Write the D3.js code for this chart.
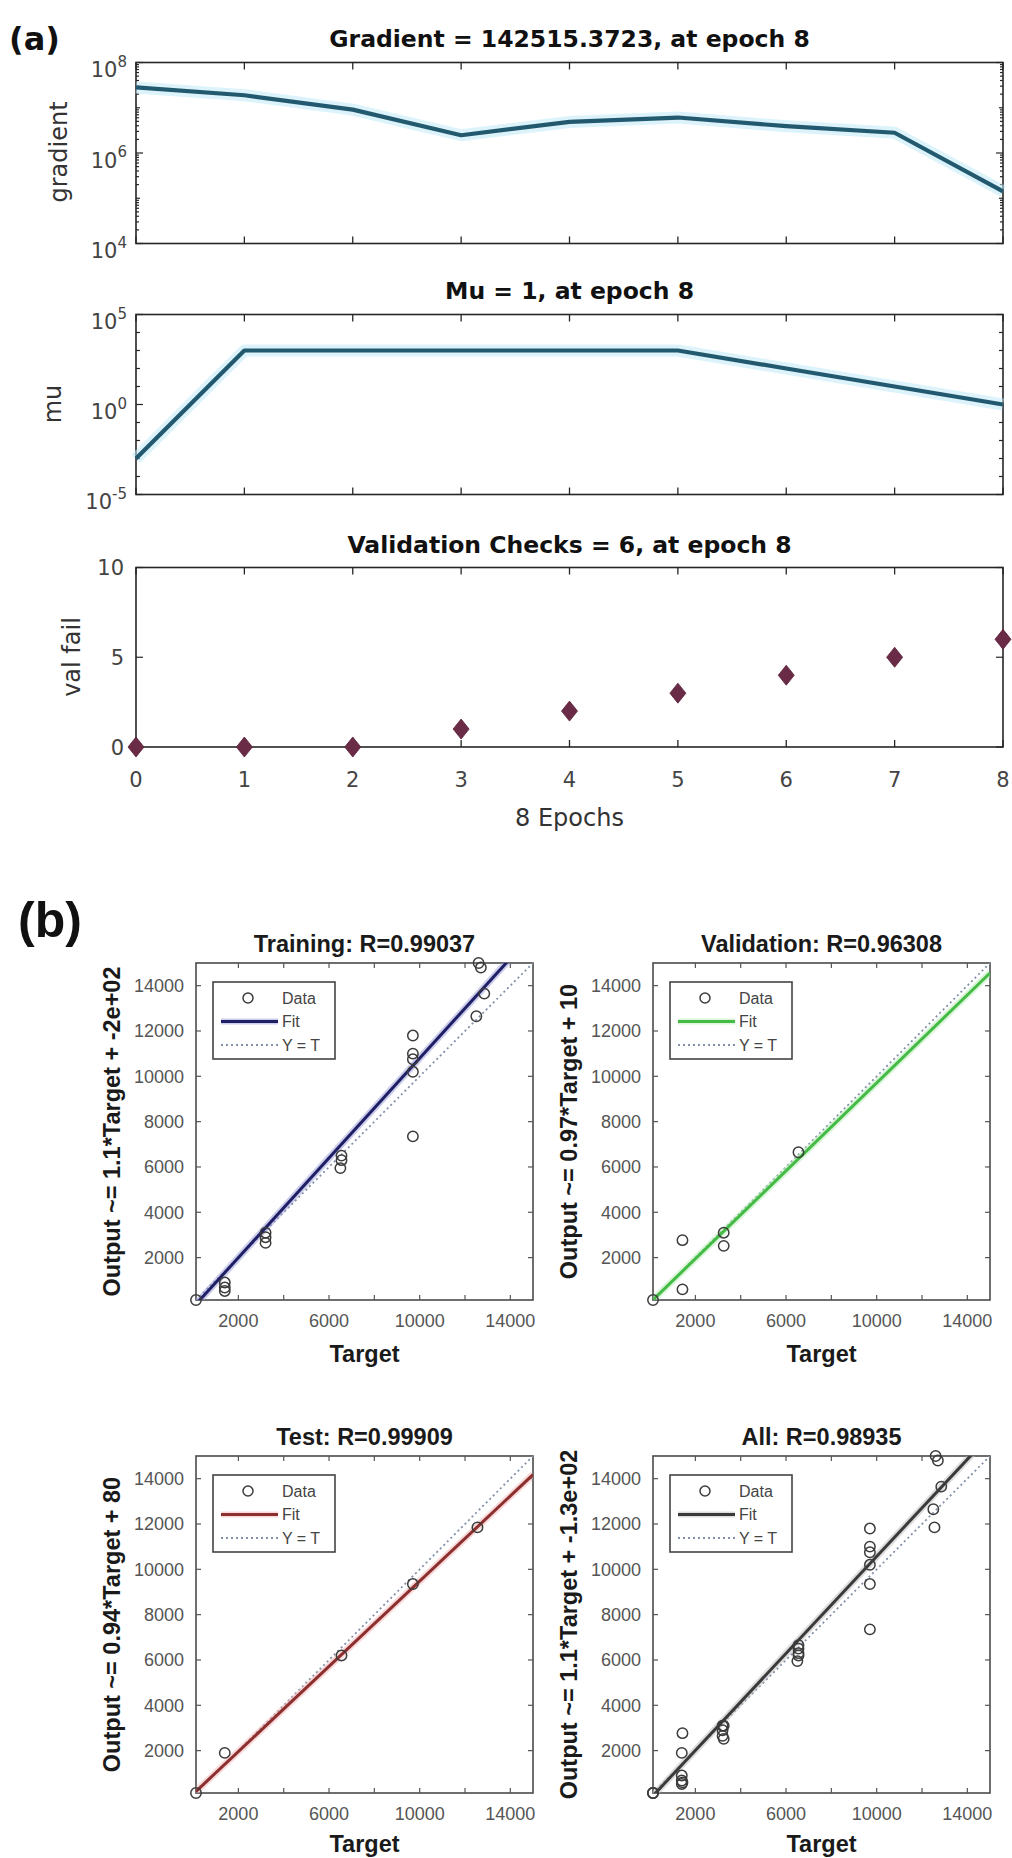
<!DOCTYPE html>
<html><head><meta charset="utf-8">
<script src="https://cdn.jsdelivr.net/npm/d3@7"></script>
<style>body{margin:0;background:#fff;} svg{display:block;}</style>
</head><body>
<svg id="chart" width="1012" height="1858"></svg>
<script>
// ===== DATA =====
const epochs = [0, 1, 2, 3, 4, 5, 6, 7, 8];
const gradientValues = [2.81e7, 1.89e7, 9.1e6, 2.47e6, 4.86e6, 6.08e6, 3.91e6, 2.8e6, 142515.3723];
const muValues = [1e-3, 1e3, 1e3, 1e3, 1e3, 1e3, 1e2, 1e1, 1];
const valFailValues = [0, 0, 0, 1, 2, 3, 4, 5, 6];
const panelATitles = ["Gradient = 142515.3723, at epoch 8", "Mu = 1, at epoch 8", "Validation Checks = 6, at epoch 8"];
const panelAYLabels = ["gradient", "mu", "val fail"];
const gradientTickExps = [4, 6, 8];
const muTickExps = [-5, 0, 5];
const valFailTicks = [0, 5, 10];
const epochAxisLabel = "8 Epochs";

const trainingTarget = [130, 1400, 1400, 1400, 3200, 3200, 3200, 6550, 6550, 6500, 9700, 9700, 9700, 9700, 9700, 12600, 12700, 12850, 12500];
const trainingOutput = [130, 900, 680, 530, 3100, 2900, 2650, 6500, 6300, 5950, 11800, 11000, 10750, 10200, 7350, 15000, 14800, 13650, 12650];
const validationTarget = [130, 1430, 1430, 3250, 3250, 6550];
const validationOutput = [130, 2770, 600, 3100, 2520, 6650];
const testTarget = [130, 1400, 6550, 9700, 12550];
const testOutput = [130, 1900, 6200, 9350, 11850];
const allTarget = trainingTarget.concat(validationTarget, testTarget);
const allOutput = trainingOutput.concat(validationOutput, testOutput);

const regressionTitles = ["Training: R=0.99037", "Validation: R=0.96308", "Test: R=0.99909", "All: R=0.98935"];
const regressionYLabels = ["Output ~= 1.1*Target + -2e+02", "Output ~= 0.97*Target + 10", "Output ~= 0.94*Target + 80", "Output ~= 1.1*Target + -1.3e+02"];
const fitSlopes = [1.1, 0.97, 0.94, 1.07];
const fitIntercepts = [-200, 10, 80, -130];
const regressionTicks = [2000, 4000, 6000, 8000, 10000, 12000, 14000];
const regressionXTickLabels = [2000, 6000, 10000, 14000];
const regressionYTickLabels = [2000, 4000, 6000, 8000, 10000, 12000, 14000];
const legendLabels = ["Data", "Fit", "Y = T"];
const regressionXLabel = "Target";
const panelLabels = ["(a)", "(b)"];

// ===== STYLE / LAYOUT =====
const W = 1012, H = 1858;
const svg = d3.select("#chart");
const FA = "'DejaVu Sans', sans-serif";
const FB = "'Liberation Sans', Arial, sans-serif";

svg.append("text").attr("x", 9).attr("y", 50).attr("font-family", FA).attr("font-weight", "bold")
  .attr("font-size", 32).attr("fill", "#111").text(panelLabels[0]);
svg.append("text").attr("x", 18).attr("y", 937).attr("font-family", FB).attr("font-weight", "bold")
  .attr("font-size", 50).attr("fill", "#111").text(panelLabels[1]);

const AL = 136, AR = 1003;
const xE = d3.scaleLinear().domain([0, 8]).range([AL, AR]);

function boxAndXTicks(g, top, bottom) {
  g.append("rect").attr("x", AL).attr("y", top).attr("width", AR - AL).attr("height", bottom - top)
    .attr("fill", "none").attr("stroke", "#262626").attr("stroke-width", 1.6);
  epochs.forEach(e => {
    g.append("line").attr("x1", xE(e)).attr("x2", xE(e)).attr("y1", bottom).attr("y2", bottom - 7)
      .attr("stroke", "#262626").attr("stroke-width", 1.3);
    g.append("line").attr("x1", xE(e)).attr("x2", xE(e)).attr("y1", top).attr("y2", top + 7)
      .attr("stroke", "#262626").attr("stroke-width", 1.3);
  });
}
function yTick(g, y, len) {
  g.append("line").attr("x1", AL).attr("x2", AL + len).attr("y1", y).attr("y2", y).attr("stroke", "#262626").attr("stroke-width", 1.2);
  g.append("line").attr("x1", AR).attr("x2", AR - len).attr("y1", y).attr("y2", y).attr("stroke", "#262626").attr("stroke-width", 1.2);
}
function titleA(g, txt, y) {
  g.append("text").attr("x", (AL + AR) / 2).attr("y", y).attr("text-anchor", "middle")
    .attr("font-family", FA).attr("font-weight", "bold").attr("font-size", 23.5).attr("fill", "#111").text(txt);
}
function yLabelA(g, txt, x, cy) {
  g.append("text").attr("transform", `translate(${x},${cy}) rotate(-90)`).attr("text-anchor", "middle")
    .attr("font-family", FA).attr("font-size", 24).attr("fill", "#333").text(txt);
}
function logTickLabel(g, y, exp) {
  const t = g.append("text").attr("x", 127).attr("y", y + 14.5).attr("text-anchor", "end")
    .attr("font-family", FA).attr("font-size", 21).attr("fill", "#444");
  t.append("tspan").text("10");
  t.append("tspan").attr("dy", -10.5).attr("font-size", 15).text(String(exp));
}
function logPanel(g, top, bottom, expLo, expHi, tickExps, values) {
  const y = d3.scaleLog().domain([Math.pow(10, expLo), Math.pow(10, expHi)]).range([bottom, top]);
  boxAndXTicks(g, top, bottom);
  for (let k = expLo; k <= expHi; k++) {
    yTick(g, y(Math.pow(10, k)), tickExps.includes(k) ? 7 : 4);
    if (k < expHi && (expHi - expLo) <= 4) {
      for (let m = 2; m <= 9; m++) yTick(g, y(m * Math.pow(10, k)), 3);
    }
  }
  tickExps.forEach(k => logTickLabel(g, y(Math.pow(10, k)), k));
  const line = d3.line().x((d, i) => xE(epochs[i])).y(d => y(d));
  g.append("path").datum(values).attr("d", line).attr("fill", "none")
    .attr("stroke", "#bfeaf7").attr("stroke-width", 12).attr("stroke-opacity", 0.55).attr("stroke-linejoin", "round");
  g.append("path").datum(values).attr("d", line).attr("fill", "none")
    .attr("stroke", "#23596f").attr("stroke-width", 4.2).attr("stroke-linejoin", "round");
}

// Gradient panel
const gA1 = svg.append("g");
titleA(gA1, panelATitles[0], 47);
logPanel(gA1, 62.5, 243.5, 4, 8, gradientTickExps, gradientValues);
yLabelA(gA1, panelAYLabels[0], 67, 152);

// Mu panel
const gA2 = svg.append("g");
titleA(gA2, panelATitles[1], 299);
logPanel(gA2, 314.5, 494.5, -5, 5, muTickExps, muValues);
yLabelA(gA2, panelAYLabels[1], 61, 404);

// Val fail panel
const gA3 = svg.append("g");
titleA(gA3, panelATitles[2], 553);
const VT = 567.5, VB = 747;
const yV = d3.scaleLinear().domain([0, 10]).range([VB, VT]);
boxAndXTicks(gA3, VT, VB);
valFailTicks.forEach(v => {
  yTick(gA3, yV(v), 7);
  gA3.append("text").attr("x", 124).attr("y", yV(v)).attr("dy", "0.36em").attr("text-anchor", "end")
    .attr("font-family", FA).attr("font-size", 21).attr("fill", "#444").text(v);
});
epochs.forEach(e => {
  gA3.append("text").attr("x", xE(e)).attr("y", 787).attr("text-anchor", "middle")
    .attr("font-family", FA).attr("font-size", 21).attr("fill", "#444").text(e);
});
yLabelA(gA3, panelAYLabels[2], 80, 657);
gA3.append("text").attr("x", (AL + AR) / 2).attr("y", 826).attr("text-anchor", "middle")
  .attr("font-family", FA).attr("font-size", 24).attr("fill", "#333").text(epochAxisLabel);
const diamond = (cx, cy) => `M${cx},${cy - 10}L${cx + 8},${cy}L${cx},${cy + 10}L${cx - 8},${cy}Z`;
gA3.selectAll("path.vf").data(valFailValues).enter().append("path").attr("class", "vf")
  .attr("d", (d, i) => diamond(xE(epochs[i]), yV(d))).attr("fill", "#6a2b47").attr("stroke", "#5a2039").attr("stroke-width", 0.8);

// ===== PANEL (b) =====
const allVals = allTarget.concat(allOutput);
const dom = [d3.min(allVals), d3.max(allVals)];
const BS = 337;
const regPanels = [
  {left: 196, top: 963, T: trainingTarget, Y: trainingOutput, color: "#1f1f66", halo: "#9a9ad8"},
  {left: 653, top: 963, T: validationTarget, Y: validationOutput, color: "#44bb44", halo: "#b5ecb5"},
  {left: 196, top: 1456, T: testTarget, Y: testOutput, color: "#8e2f2f", halo: "#f2b5b5"},
  {left: 653, top: 1456, T: allTarget, Y: allOutput, color: "#3a3a3a", halo: "#bcbcbc"}
];
regPanels.forEach((p, i) => {
  const g = svg.append("g");
  const x = d3.scaleLinear().domain(dom).range([p.left, p.left + BS]);
  const y = d3.scaleLinear().domain(dom).range([p.top + BS, p.top]);
  const cid = "clip" + i;
  g.append("clipPath").attr("id", cid).append("rect").attr("x", p.left).attr("y", p.top).attr("width", BS).attr("height", BS);
  g.append("rect").attr("x", p.left).attr("y", p.top).attr("width", BS).attr("height", BS)
    .attr("fill", "#fff").attr("stroke", "#4a4a4a").attr("stroke-width", 1.6);
  regressionTicks.forEach(v => {
    const tx = x(v), ty = y(v);
    [[tx, p.top + BS, tx, p.top + BS - 5], [tx, p.top, tx, p.top + 5],
     [p.left, ty, p.left + 5, ty], [p.left + BS, ty, p.left + BS - 5, ty]].forEach(c => {
      g.append("line").attr("x1", c[0]).attr("y1", c[1]).attr("x2", c[2]).attr("y2", c[3])
        .attr("stroke", "#555").attr("stroke-width", 1.2);
    });
  });
  regressionXTickLabels.forEach(v => {
    g.append("text").attr("x", x(v)).attr("y", p.top + BS + 27).attr("text-anchor", "middle")
      .attr("font-family", FB).attr("font-size", 18).attr("fill", "#555").text(v);
  });
  regressionYTickLabels.forEach(v => {
    g.append("text").attr("x", p.left - 12).attr("y", y(v)).attr("dy", "0.35em").attr("text-anchor", "end")
      .attr("font-family", FB).attr("font-size", 18).attr("fill", "#555").text(v);
  });
  const clipped = g.append("g").attr("clip-path", `url(#${cid})`);
  // Y = T
  clipped.append("line").attr("x1", x(dom[0])).attr("y1", y(dom[0])).attr("x2", x(dom[1])).attr("y2", y(dom[1]))
    .attr("stroke", "#8391a8").attr("stroke-width", 1.8).attr("stroke-dasharray", "2,3");
  // Fit
  const fy = t => fitSlopes[i] * t + fitIntercepts[i];
  clipped.append("line").attr("x1", x(dom[0])).attr("y1", y(fy(dom[0]))).attr("x2", x(dom[1])).attr("y2", y(fy(dom[1])))
    .attr("stroke", p.halo).attr("stroke-width", 7).attr("stroke-opacity", 0.5);
  clipped.append("line").attr("x1", x(dom[0])).attr("y1", y(fy(dom[0]))).attr("x2", x(dom[1])).attr("y2", y(fy(dom[1])))
    .attr("stroke", p.color).attr("stroke-width", 3);
  // Data
  g.selectAll("circle.d").data(p.T.map((t, k) => [t, p.Y[k]])).enter().append("circle").attr("class", "d")
    .attr("cx", d => x(d[0])).attr("cy", d => y(d[1])).attr("r", 5.2)
    .attr("fill", "none").attr("stroke", "#3c3c3c").attr("stroke-width", 1.5);
  // Legend
  const lx = p.left + 17, ly = p.top + 19;
  g.append("rect").attr("x", lx).attr("y", ly).attr("width", 122).attr("height", 77)
    .attr("fill", "#fff").attr("stroke", "#444").attr("stroke-width", 1.6);
  const rows = [ly + 16, ly + 39.5, ly + 63];
  g.append("circle").attr("cx", lx + 35).attr("cy", rows[0]).attr("r", 5).attr("fill", "none").attr("stroke", "#3c3c3c").attr("stroke-width", 1.5);
  g.append("line").attr("x1", lx + 8).attr("x2", lx + 65).attr("y1", rows[1]).attr("y2", rows[1]).attr("stroke", p.halo).attr("stroke-width", 6).attr("stroke-opacity", 0.5);
  g.append("line").attr("x1", lx + 8).attr("x2", lx + 65).attr("y1", rows[1]).attr("y2", rows[1]).attr("stroke", p.color).attr("stroke-width", 3);
  g.append("line").attr("x1", lx + 8).attr("x2", lx + 65).attr("y1", rows[2]).attr("y2", rows[2]).attr("stroke", "#8391a8").attr("stroke-width", 1.8).attr("stroke-dasharray", "2,3");
  legendLabels.forEach((t, k) => {
    g.append("text").attr("x", lx + 69).attr("y", rows[k]).attr("dy", "0.35em")
      .attr("font-family", FB).attr("font-size", 16).attr("fill", "#444").text(t);
  });
  // Titles & labels
  g.append("text").attr("x", p.left + BS / 2).attr("y", p.top - 11).attr("text-anchor", "middle")
    .attr("font-family", FB).attr("font-weight", "bold").attr("font-size", 23.5).attr("fill", "#1a1a1a").text(regressionTitles[i]);
  g.append("text").attr("x", p.left + BS / 2).attr("y", Math.min(p.top + BS + 62, H - 6)).attr("text-anchor", "middle")
    .attr("font-family", FB).attr("font-weight", "bold").attr("font-size", 23.5).attr("fill", "#1a1a1a").text(regressionXLabel);
  g.append("text").attr("transform", `translate(${p.left - 76},${p.top + BS / 2}) rotate(-90)`).attr("text-anchor", "middle")
    .attr("font-family", FB).attr("font-weight", "bold").attr("font-size", 23.5).attr("fill", "#1a1a1a").text(regressionYLabels[i]);
});
</script>
</body></html>
